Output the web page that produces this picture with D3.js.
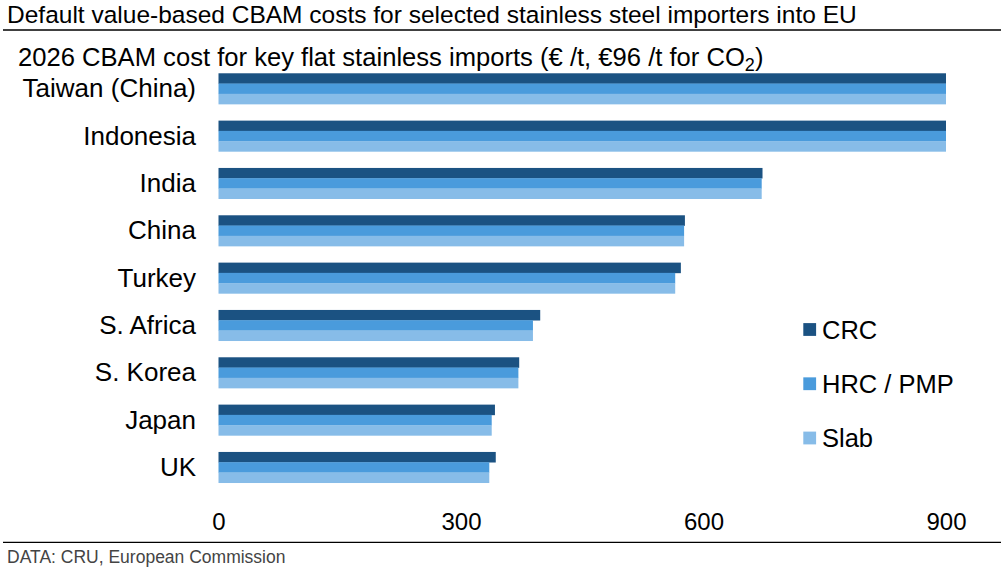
<!DOCTYPE html>
<html>
<head>
<meta charset="utf-8">
<script src="https://cdn.jsdelivr.net/npm/d3@7"></script>
<style>
  body { margin: 0; background: #fff; }
  svg text { font-family: "Liberation Sans", Arial, sans-serif; }
</style>
</head>
<body>
<svg id="chart"></svg>
<script>
let countries = ["Taiwan (China)", "Indonesia", "India", "China", "Turkey", "S. Africa", "S. Korea", "Japan", "UK"];
let seriesNames = ["CRC", "HRC / PMP", "Slab"];
let crcValues = [900, 900, 673, 577, 572, 398, 372, 342, 343];
let hrcValues = [900, 900, 672, 576, 565, 389, 371, 338, 335];
let slabValues = [900, 900, 672, 576, 565, 389, 371, 338, 335];
let xTicks = [0, 300, 600, 900];
let colors = ["#1b5282", "#4a9bdc", "#87bce8"];

function chartConfig(){
    let width = 1001;
    let height = 570;
    let plot = { left: 218.5, right: 946, top: 65, bottom: 491 };
    let container = d3.select("#chart")
        .attr("width", width)
        .attr("height", height);
    return {width, height, plot, container};
}

function chartScales(config){
    let {plot} = config;
    let xScale = d3.scaleLinear().domain([0, 900]).range([plot.left, plot.right]);
    let yScale = d3.scaleBand()
        .domain(countries)
        .range([plot.top, plot.bottom])
        .paddingInner(0.35)
        .paddingOuter(0.175);
    let subScale = d3.scaleBand()
        .domain(seriesNames)
        .range([0, yScale.bandwidth()]);
    let colorScale = d3.scaleOrdinal().domain(seriesNames).range(colors);
    return {xScale, yScale, subScale, colorScale};
}

function drawFrame(config){
    let {container, width} = config;
    container.append("text")
        .attr("x", 7).attr("y", 22.5)
        .attr("font-size", "24.5px").attr("fill", "#000")
        .text("Default value-based CBAM costs for selected stainless steel importers into EU");
    container.append("line")
        .attr("x1", 3).attr("x2", width).attr("y1", 30).attr("y2", 30)
        .attr("stroke", "#000").attr("stroke-width", 1.3);

    let sub = container.append("text")
        .attr("x", 18).attr("y", 66)
        .attr("font-size", "25.6px").attr("fill", "#000");
    sub.append("tspan").text("2026 CBAM cost for key flat stainless imports (€ /t, €96 /t for CO");
    sub.append("tspan").attr("font-size", "18px").attr("dy", 5).text("2");
    sub.append("tspan").attr("dy", -5).text(")");

    container.append("line")
        .attr("x1", 3).attr("x2", width).attr("y1", 542.3).attr("y2", 542.3)
        .attr("stroke", "#000").attr("stroke-width", 1.3);
    container.append("text")
        .attr("x", 7).attr("y", 563)
        .attr("font-size", "17.5px").attr("fill", "#444")
        .text("DATA: CRU, European Commission");
}

function drawBars(config, scales){
    let {container} = config;
    let {xScale, yScale, subScale, colorScale} = scales;
    let rows = countries.map((c, i) => ({
        country: c,
        values: [
            {series: seriesNames[0], amount: crcValues[i]},
            {series: seriesNames[1], amount: hrcValues[i]},
            {series: seriesNames[2], amount: slabValues[i]}
        ]
    }));

    let groups = container.append("g").selectAll("g").data(rows).enter().append("g")
        .attr("transform", d => `translate(0,${yScale(d.country)})`);
    groups.selectAll("rect").data(d => d.values).enter().append("rect")
        .attr("x", xScale(0))
        .attr("y", d => subScale(d.series))
        .attr("width", d => xScale(d.amount) - xScale(0))
        .attr("height", subScale.bandwidth() + 0.3)
        .attr("fill", d => colorScale(d.series));

    // category labels
    container.append("g").selectAll("text").data(countries).enter().append("text")
        .attr("x", 196)
        .attr("y", d => yScale(d) + yScale.bandwidth() / 2 + 8.5)
        .attr("text-anchor", "end")
        .attr("font-size", "26px")
        .attr("fill", "#000")
        .text(d => d);

    // x axis
    let axis = container.append("g")
        .attr("transform", "translate(0,513)")
        .call(d3.axisBottom(xScale).tickValues(xTicks).tickSize(0).tickPadding(0));
    axis.select(".domain").remove();
    axis.selectAll("text")
        .attr("font-size", "24px")
        .attr("fill", "#000")
        .attr("dy", "0.72em");
}

function drawLegend(config, scales){
    let {container} = config;
    let {colorScale} = scales;
    let legendY = d3.scalePoint().domain(seriesNames).range([329.5, 438]);
    let items = container.append("g").selectAll("g").data(seriesNames).enter().append("g")
        .attr("transform", d => `translate(803.3,${legendY(d)})`);
    items.append("rect")
        .attr("x", 0).attr("y", -6.4)
        .attr("width", 12.8).attr("height", 12.8)
        .attr("fill", d => colorScale(d));
    items.append("text")
        .attr("x", 18.7).attr("y", 9)
        .attr("font-size", "25.5px")
        .attr("fill", "#000")
        .text(d => d);
}

let config = chartConfig();
let scales = chartScales(config);
drawFrame(config);
drawBars(config, scales);
drawLegend(config, scales);
</script>
</body>
</html>
